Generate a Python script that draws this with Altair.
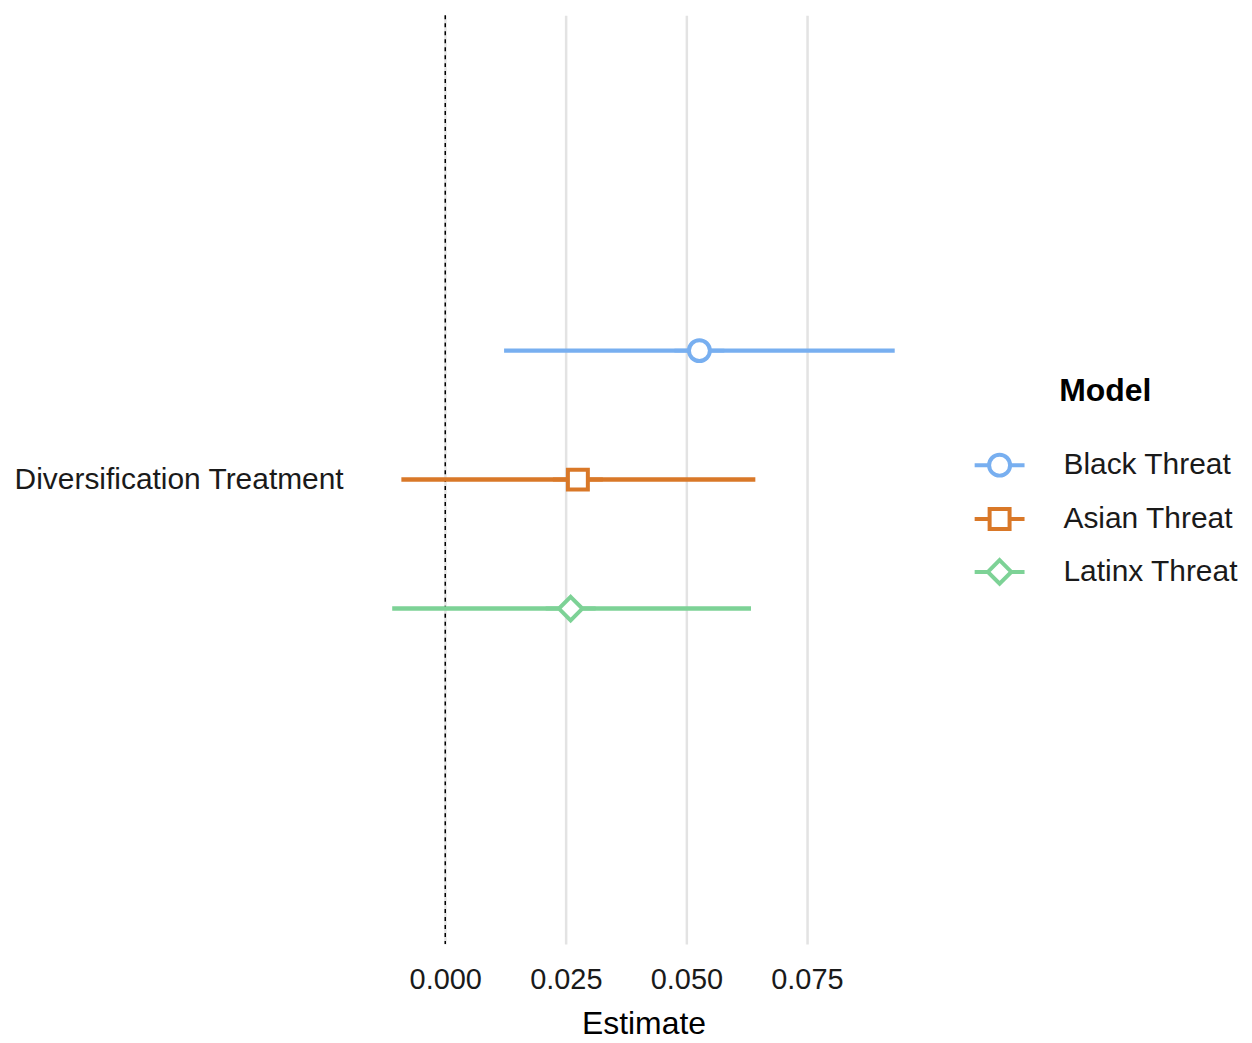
import altair as alt
import pandas as pd

models = ["Black Threat", "Asian Threat", "Latinx Threat"]
estimates = [0.0527, 0.0275, 0.0260]
lower = [0.0122, -0.0091, -0.0110]
upper = [0.0932, 0.0643, 0.0634]
dodge = [1 / 6, 0.0, -1 / 6]
colors = ["#78AFF0", "#D97828", "#7DD296"]
shapes = [
    "M-1,0L-0.42,0M0.42,0L1,0M0.42,0A0.42,0.42,0,1,1,-0.42,0A0.42,0.42,0,1,1,0.42,0Z",
    "M-1,0L-0.4,0M0.4,0L1,0M-0.4,-0.4L0.4,-0.4L0.4,0.4L-0.4,0.4Z",
    "M-1,0L-0.47,0M0.47,0L1,0M0,-0.47L0.47,0L0,0.47L-0.47,0Z",
]

df = pd.DataFrame({"Model": models, "Estimate": estimates, "lo": lower,
                   "hi": upper, "pos": dodge})

FONT = "Liberation Sans"

xscale = alt.Scale(domain=[-0.0162, 0.0984], nice=False, zero=False)
yscale = alt.Scale(domain=[-0.6, 0.6], nice=False, zero=False)

xaxis = alt.Axis(title="Estimate", values=[0, 0.025, 0.05, 0.075], format=".3f",
                 grid=True, gridColor="#E3E3E3", gridWidth=2.5, domain=False,
                 ticks=False, labelFontSize=29, labelPadding=22, labelColor="#1a1a1a",
                 titleFontSize=32, titleFontWeight="normal", titlePadding=14,
                 titleColor="#000000", labelFont=FONT, titleFont=FONT)
yaxis = alt.Axis(title=None, values=[0], labelExpr="'Diversification Treatment'",
                 grid=False, domain=False, ticks=False, labelFontSize=30,
                 labelPadding=24, labelColor="#1a1a1a", labelFont=FONT,
                 labelLimit=500)

color = alt.Color("Model:N", scale=alt.Scale(domain=models, range=colors),
                  legend=alt.Legend(title="Model"))
shape = alt.Shape("Model:N", scale=alt.Scale(domain=models, range=shapes),
                  legend=alt.Legend(title="Model"))

zero_line = alt.Chart(pd.DataFrame({"z": [0.0]})).mark_rule(
    color="black", strokeDash=[4, 4], strokeWidth=1.5
).encode(x=alt.X("z:Q", scale=xscale, axis=xaxis))

bars = alt.Chart(df).mark_rule(strokeWidth=4.5).encode(
    x=alt.X("lo:Q", scale=xscale, axis=xaxis),
    x2="hi:Q",
    y=alt.Y("pos:Q", scale=yscale, axis=yaxis),
    color=color,
)

points = alt.Chart(df).mark_point(
    size=2500, fill="white", strokeWidth=4, opacity=1, filled=False
).encode(
    x=alt.X("Estimate:Q", scale=xscale, axis=xaxis),
    y=alt.Y("pos:Q", scale=yscale, axis=yaxis),
    color=color,
    shape=shape,
)

chart = (zero_line + bars + points).properties(
    width=554, height=931,
    padding={"left": 5, "top": 5, "right": 5, "bottom": 5},
).configure_view(stroke=None).configure_legend(
    orient="none", legendX=607, legendY=362, titleFontSize=32,
    titleFontWeight="bold", titleFont=FONT, titleColor="#000000",
    titleAnchor="middle", titlePadding=30, labelFontSize=30, labelFont=FONT,
    labelColor="#1a1a1a", labelOffset=37, symbolSize=2500, symbolStrokeWidth=4,
    symbolFillColor="white", rowPadding=8, labelLimit=400,
)

chart.save("out.html", embed_options={"renderer": "svg", "actions": False})
